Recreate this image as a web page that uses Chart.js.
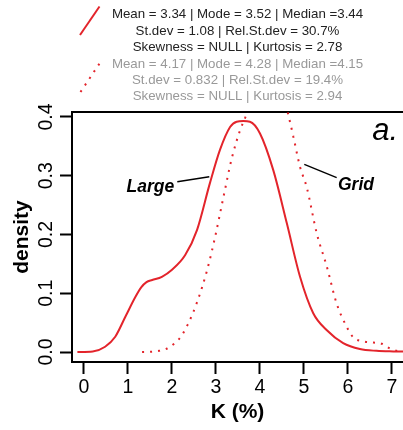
<!DOCTYPE html>
<html><head><meta charset="utf-8">
<script src="https://cdn.jsdelivr.net/npm/chart.js@4"></script>
<style>html,body{margin:0;padding:0;background:#fff;overflow:hidden}#wrap{width:403px;height:430px}</style>
</head><body><div id="wrap"><canvas id="c" width="403" height="430"></canvas></div>
<script>
const largeX = [-0.15, 0.2, 0.48, 0.71, 0.94, 1.17, 1.3, 1.42, 1.55, 1.77, 2.0, 2.3, 2.57, 2.86, 3.09, 3.32, 3.47, 3.62, 3.77, 4.0, 4.3, 4.61, 4.91, 5.21, 5.52, 5.89, 6.27, 6.65, 7.03, 7.4];
const largeY = [0, 0.001, 0.009, 0.026, 0.06, 0.094, 0.110, 0.119, 0.1225, 0.128, 0.14, 0.165, 0.208, 0.287, 0.344, 0.383, 0.392, 0.393, 0.392, 0.372, 0.31, 0.219, 0.128, 0.066, 0.037, 0.015, 0.005, 0.002, 0.001, 0.0005];
const gridX = [1.32, 1.52, 1.71, 1.89, 2.04, 2.17, 2.36, 2.58, 2.80, 2.98, 3.17, 3.36, 3.55, 3.67, 3.85, 4.05, 4.25, 4.45, 4.63, 4.76, 4.91, 5.06, 5.29, 5.52, 5.74, 5.97, 6.12, 6.35, 6.58, 6.77, 6.95, 7.11, 7.4];
const gridY = [0, 0.0005, 0.002, 0.006, 0.0136, 0.023, 0.047, 0.087, 0.14, 0.196, 0.264, 0.33, 0.378, 0.40, 0.44, 0.47, 0.48, 0.46, 0.408, 0.366, 0.315, 0.281, 0.202, 0.145, 0.083, 0.043, 0.025, 0.018, 0.016, 0.014, 0.006, 0.002, 0.001];
const xTicks = [0, 1, 2, 3, 4, 5, 6, 7];
const yTicks = [0, 0.1, 0.2, 0.3, 0.4];
const statsLarge = ["Mean = 3.34 | Mode = 3.52 | Median =3.44", "St.dev = 1.08 | Rel.St.dev = 30.7%", "Skewness = NULL | Kurtosis = 2.78"];
const statsGrid = ["Mean = 4.17 | Mode = 4.28 | Median =4.15", "St.dev = 0.832 | Rel.St.dev = 19.4%", "Skewness = NULL | Kurtosis = 2.94"];
const seriesNames = ["Large", "Grid"];

const RED = '#e3242b';
const FF = "'Liberation Sans', Arial, Helvetica, sans-serif";

const extras = {
  id: 'extras',
  afterDraw(chart) {
    const ctx = chart.ctx;
    ctx.save();
    ctx.font = "13.3px " + FF;
    ctx.textAlign = 'center';
    ctx.textBaseline = 'alphabetic';
    const base = [18.3, 34.7, 51.1, 67.5, 83.9, 100.3];
    statsLarge.forEach((t, i) => { ctx.fillStyle = '#222'; ctx.fillText(t, 237.5, base[i]); });
    statsGrid.forEach((t, i) => { ctx.fillStyle = '#999'; ctx.fillText(t, 237.5, base[i + 3]); });
    ctx.strokeStyle = RED; ctx.lineWidth = 2;
    ctx.beginPath(); ctx.moveTo(80, 35); ctx.lineTo(99.5, 6.5); ctx.stroke();
    ctx.setLineDash([2, 6]);
    ctx.beginPath(); ctx.moveTo(80.5, 92); ctx.lineTo(99.5, 63.5); ctx.stroke();
    ctx.setLineDash([]);
    ctx.fillStyle = '#000';
    ctx.font = "italic bold 17.5px " + FF;
    ctx.textAlign = 'left';
    ctx.fillText(seriesNames[0], 126.5, 191.7);
    ctx.fillText(seriesNames[1], 338, 190);
    ctx.strokeStyle = '#000'; ctx.lineWidth = 1.4;
    ctx.beginPath(); ctx.moveTo(177.3, 181.7); ctx.lineTo(209.3, 176.7); ctx.stroke();
    ctx.beginPath(); ctx.moveTo(304.3, 164.3); ctx.lineTo(336.7, 177.7); ctx.stroke();
    ctx.font = "italic 31px " + FF;
    ctx.textAlign = 'right';
    ctx.fillText('a.', 398, 139.5);
    ctx.restore();
  }
};

const pts = (xs, ys) => xs.map((x, i) => ({x: x, y: ys[i]}));

new Chart(document.getElementById('c'), {
  type: 'line',
  data: {
    datasets: [
      { label: seriesNames[0], data: pts(largeX, largeY), borderColor: RED, borderWidth: 2, pointRadius: 0, cubicInterpolationMode: 'monotone', fill: false },
      { label: seriesNames[1], data: pts(gridX, gridY), borderColor: RED, borderWidth: 2, borderDash: [2, 6], borderCapStyle: 'butt', pointRadius: 0, cubicInterpolationMode: 'monotone', fill: false }
    ]
  },
  options: {
    responsive: false,
    animation: false,
    events: [],
    layout: { padding: { top: 112, left: 0, right: 0, bottom: 0 } },
    plugins: { legend: { display: false }, tooltip: { enabled: false }, title: { display: false } },
    scales: {
      x: {
        type: 'linear', position: 'bottom',
        min: -0.2727, max: 7.25,
        afterFit: s => { s.height = 68; },
        afterBuildTicks: s => { s.ticks = xTicks.map(v => ({value: v})); },
        ticks: { includeBounds: false, autoSkip: false, maxRotation: 0, padding: 2, color: '#000', font: { family: FF, size: 19.5 }, callback: v => String(v) },
        grid: { drawOnChartArea: false, drawTicks: true, tickLength: 12, tickWidth: 2, tickColor: '#000' },
        border: { display: true, color: '#000', width: 2 },
        title: { display: true, text: 'K (%)', color: '#000', font: { family: FF, size: 21, weight: 'bold', lineHeight: 1.2 }, padding: { top: 0, bottom: 4.7 } }
      },
      x2: {
        type: 'linear', position: 'top',
        min: -0.2727, max: 7.25,
        afterFit: s => { s.height = 0; },
        ticks: { display: false },
        grid: { drawOnChartArea: false, drawTicks: false },
        border: { display: true, color: '#000', width: 2 }
      },
      y: {
        type: 'linear', position: 'left',
        min: -0.017, max: 0.4085,
        afterFit: s => { s.width = 72; },
        afterBuildTicks: s => { s.ticks = yTicks.map(v => ({value: v})); },
        ticks: { includeBounds: false, autoSkip: false, minRotation: 90, maxRotation: 90, crossAlign: 'center', padding: 0, color: '#000', font: { family: FF, size: 19.5 }, callback: v => Number(v).toFixed(1) },
        grid: { drawOnChartArea: false, drawTicks: true, tickLength: 12, tickWidth: 2, tickColor: '#000' },
        border: { display: true, color: '#000', width: 2 },
        title: { display: true, text: 'density', color: '#000', font: { family: FF, size: 21, weight: 'bold', lineHeight: 1.2 }, padding: { top: 9.4, bottom: 0 } }
      }
    }
  },
  plugins: [extras]
});
</script>
</body></html>
